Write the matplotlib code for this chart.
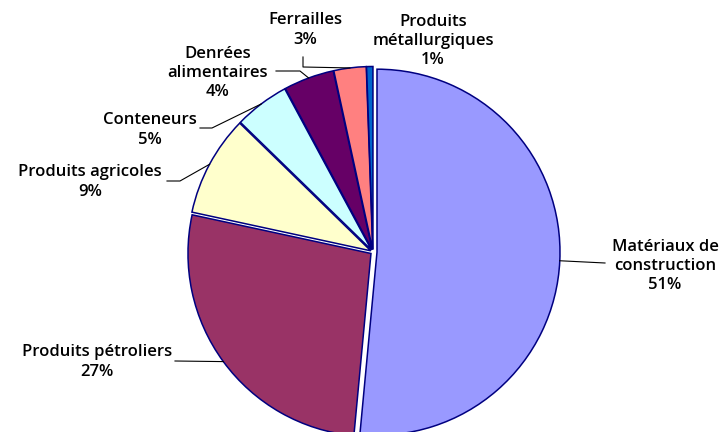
import matplotlib.pyplot as plt
import numpy as np

# Data: share of traffic by goods category (%); labels rounded
categories = ['Matériaux de\nconstruction', 'Produits pétroliers', 'Produits agricoles',
              'Conteneurs', 'Denrées\nalimentaires', 'Ferrailles', 'Produits\nmétallurgiques']
shares = [51.49, 26.9, 8.9, 4.85, 4.45, 2.85, 0.56]
colors = ['#9999FF', '#993366', '#FFFFCC', '#CCFFFF', '#660066', '#FF8080', '#0066CC']

H = 432
# label centres (pixel coords, y from top) and leader lines (start, elbow)
label_pos = [(665, 266), (97, 362), (90, 182), (150, 130), (218, 73), (305, 30), (433, 41)]
leaders = [[(605, 263)], [(175, 361)], [(167, 181), (180, 181)], [(200, 128), (212, 128)],
           [(276, 71), (300, 71)], [(303, 57), (303, 67)], None]

fig = plt.figure(figsize=(7.23, 4.32), dpi=100)
ax = fig.add_axes([0, 0, 1, 1])

cx, cy, r = 373, H - 252, 183
# pie's explode is in data units here (pixels)
explode = [4.0] + [2.5] * (len(shares) - 1)
wedges, _ = ax.pie(shares, colors=colors, startangle=90, counterclock=False,
                   center=(cx, cy), radius=r, explode=explode, frame=True,
                   wedgeprops=dict(edgecolor='#000080', linewidth=1.1))

for w, name, v, (tx, ty), ld in zip(wedges, categories, shares, label_pos, leaders):
    ax.text(tx, H - ty, f'{name}\n{round(v)}%', ha='center', va='center', fontsize=12,
            family='Open Sans', fontweight='semibold', linespacing=1.25, color='black')
    if ld is None:
        continue
    mid = np.deg2rad((w.theta1 + w.theta2) / 2)
    ex = w.center[0] + w.r * np.cos(mid)
    ey = w.center[1] + w.r * np.sin(mid)
    xs = [p[0] for p in ld] + [ex]
    ys = [H - p[1] for p in ld] + [ey]
    ax.plot(xs, ys, color='black', linewidth=0.8)

ax.set_xlim(0, 723)
ax.set_ylim(0, H)
ax.set_aspect('equal')
ax.axis('off')

plt.savefig('out.png', dpi=100)
